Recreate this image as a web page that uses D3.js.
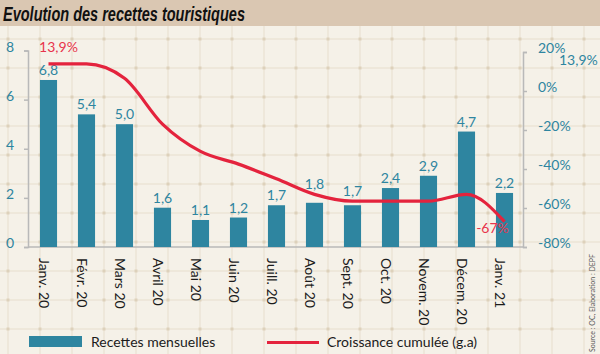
<!DOCTYPE html>
<html><head><meta charset="utf-8">
<script src="https://cdn.jsdelivr.net/npm/d3@7"></script>
<style>
html,body{margin:0;padding:0;background:#f5f1e8;}
svg{display:block;}
</style></head>
<body>
<svg id="chart" width="600" height="354"></svg>
<script>
const months = ["Janv. 20","Févr. 20","Mars 20","Avril 20","Mai 20","Juin 20","Juill. 20","Août 20","Sept. 20","Oct. 20","Novem. 20","Décem. 20","Janv. 21"];
const recettes = [6.8,5.4,5.0,1.6,1.1,1.2,1.7,1.8,1.7,2.4,2.9,4.7,2.2];
const croissance = [13.9,13.9,6.5,-17,-31,-37.5,-45,-53,-56.5,-56.5,-56.5,-53,-67];
const leftTicks = [0,2,4,6,8];
const rightTicks = [20,0,-20,-40,-60,-80];
const title = "Evolution des recettes touristiques";
const legendLabels = ["Recettes mensuelles","Croissance cumulée (g.a)"];
const source = "Source : OC, Elaboration : DEPF";

const W = 600, H = 354;
const svg = d3.select("#chart");
const font = "Lato, 'Open Sans', sans-serif";
const teal = "#2e85a0", red = "#e4233d", axisCol = "#b9b9b9";

// background + grid
svg.append("rect").attr("width",W).attr("height",H).attr("fill","#f5f1e8");
const grid = svg.append("g");
for (let x = 8; x < W; x += 32) grid.append("line").attr("x1",x).attr("x2",x).attr("y1",26).attr("y2",H).attr("stroke","#e7decd").attr("stroke-width",1);
for (let y = 39; y < H; y += 29) grid.append("line").attr("x1",0).attr("x2",W).attr("y1",y).attr("y2",y).attr("stroke","#e7decd").attr("stroke-width",1);
for (let x = 8; x < W; x += 32) for (let y = 39; y < H; y += 29)
  grid.append("rect").attr("x",x-1.5).attr("y",y-1.5).attr("width",3).attr("height",3).attr("fill","#ddd1bb");

// title band
svg.append("rect").attr("width",W).attr("height",26).attr("fill","#dac7b2");
svg.append("text").attr("x",3).attr("y",21).text(title)
  .attr("font-family","'Liberation Sans Narrow','Liberation Sans',sans-serif")
  .attr("font-weight","bold").attr("font-style","italic").attr("font-size",21)
  .attr("textLength",242).attr("lengthAdjust","spacingAndGlyphs").attr("fill","#111");

// scales
const x = d3.scaleBand().domain(months).range([29.5,523.5]).paddingInner(0.55).paddingOuter(0.275);
const yL = d3.scaleLinear().domain([0,8]).range([247,50.5]);
const yR = d3.scaleLinear().domain([-80,20]).range([247,52]);

// baseline
svg.append("line").attr("x1",28).attr("x2",523).attr("y1",247).attr("y2",247).attr("stroke",axisCol).attr("stroke-width",1.5);

// left axis
const gL = svg.append("g").attr("transform","translate(28,0)")
  .call(d3.axisLeft(yL).tickValues(leftTicks).tickSize(4).tickSizeOuter(4).tickFormat(d3.format("d")));
gL.select(".domain").attr("stroke",axisCol).attr("stroke-width",1.5);
gL.selectAll(".tick line").attr("stroke",axisCol).attr("stroke-width",1.5);
gL.selectAll(".tick text").attr("x",-18).attr("text-anchor","middle").attr("dy","0.05em")
  .attr("fill",teal).attr("font-family",font).attr("font-size",14);

// right axis
const gR = svg.append("g").attr("transform","translate(523,0)")
  .call(d3.axisRight(yR).tickValues(rightTicks).tickSize(4).tickSizeOuter(4).tickFormat(d => d + "%"));
gR.select(".domain").attr("stroke",axisCol).attr("stroke-width",1.5);
gR.selectAll(".tick line").attr("stroke",axisCol).attr("stroke-width",1.5);
gR.selectAll(".tick text").attr("x",15).attr("text-anchor","start").attr("dy","0.02em")
  .attr("fill",teal).attr("font-family",font).attr("font-size",14);
gL.attr("font-family",font); gR.attr("font-family",font);

// bars
const cx = i => x(months[i]) + x.bandwidth()/2;
svg.append("g").selectAll("rect").data(recettes).join("rect")
  .attr("x",(d,i)=>x(months[i])).attr("width",x.bandwidth())
  .attr("y",d=>yL(d)).attr("height",d=>yL(0)-yL(d)).attr("fill",teal);
// value labels: sit above the bar, lifted above the growth line when it would cross them
const labelY = (d,i) => {
  let b = yL(d) - 5;
  const ly = yR(croissance[i]);
  if (ly > b - 8 && ly < b + 4) b = ly - 5;
  return b;
};
svg.append("g").selectAll("text").data(recettes).join("text")
  .attr("x",(d,i)=>cx(i)).attr("y",labelY)
  .attr("text-anchor","middle").attr("fill",teal).attr("font-family",font).attr("font-size",14)
  .text(d=>d3.format(".1f")(d).replace(".",","));

// line
const line = d3.line().x((d,i)=>cx(i)).y(d=>yR(d)).curve(d3.curveMonotoneX);
svg.append("path").datum(croissance).attr("d",line).attr("fill","none").attr("stroke",red).attr("stroke-width",3.2).attr("stroke-linejoin","round");

// line labels
const fmtPct = d => String(d).replace(".",",") + "%";
svg.append("text").attr("x",cx(0)+10).attr("y",yR(croissance[0])-12)
  .attr("text-anchor","middle").attr("fill","#e8344c").attr("font-family",font).attr("font-size",14).text(fmtPct(croissance[0]));
const last = croissance.length-1;
svg.append("text").attr("x",cx(last)-12).attr("y",yR(croissance[last])+11)
  .attr("text-anchor","middle").attr("fill","#e8344c").attr("font-family",font).attr("font-size",14).text(Math.round(croissance[last]) + "%");
svg.append("text").attr("x",559).attr("y",65).attr("fill",teal).attr("font-family",font).attr("font-size",14).text(fmtPct(croissance[0]));

// x labels
svg.append("g").selectAll("text").data(months).join("text")
  .attr("transform",(d,i)=>`translate(${cx(i)-9.5},258) rotate(90)`)
  .attr("text-anchor","start").attr("fill","#1b1b1b").attr("font-family",font).attr("font-size",14).text(d=>d);

// legend
svg.append("rect").attr("x",29).attr("y",336).attr("width",53).attr("height",11).attr("fill",teal);
svg.append("text").attr("x",91).attr("y",347).attr("fill","#1b1b1b").attr("font-family",font).attr("font-size",14).text(legendLabels[0]);
svg.append("line").attr("x1",267).attr("x2",319).attr("y1",342.5).attr("y2",342.5).attr("stroke",red).attr("stroke-width",3);
svg.append("text").attr("x",327).attr("y",347).attr("fill","#1b1b1b").attr("font-family",font).attr("font-size",14).text(legendLabels[1]);

// source
svg.append("text").attr("transform","translate(595,352) rotate(-90)").attr("fill","#555").attr("font-family",font).attr("font-size",7).text(source);
</script>
</body></html>
